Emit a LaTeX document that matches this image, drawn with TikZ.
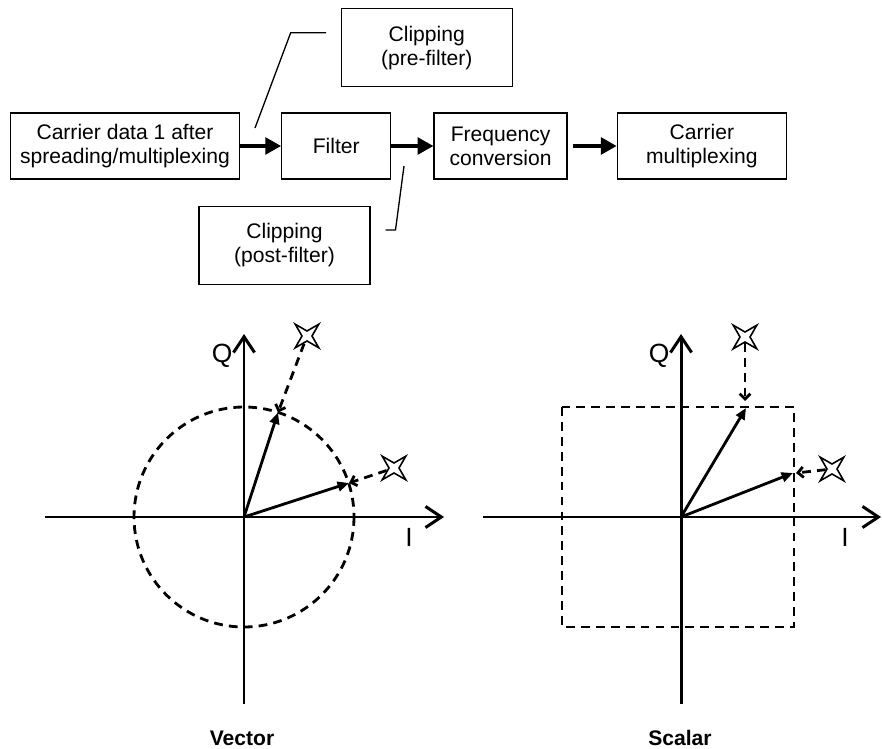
\documentclass[tikz,border=0pt]{standalone}
\usepackage{fontspec}
\setmainfont{Liberation Sans}
\usetikzlibrary{shapes.geometric, arrows.meta, positioning, calc}
\tikzstyle{block} = [draw, rectangle, line width=0.75pt, minimum height=1.32cm, inner sep=0pt, align=center, font=\fontsize{12}{13.7}\selectfont]
\tikzstyle{clipbox} = [block, minimum width=3.42cm, minimum height=1.56cm]
\tikzstyle{arrow} = [draw, -{Triangle[length=9pt,width=9.5pt]}, line width=2pt]
\tikzstyle{callout} = [draw, line width=0.75pt]
\tikzstyle{axis} = [draw, -{Straight Barb[length=9pt,width=12pt]}, line width=1.7pt]
\tikzstyle{phasor} = [draw, -{Triangle[length=6.5pt,width=5.5pt]}, line width=1.6pt]
\tikzstyle{limit} = [draw, dash pattern=on 5pt off 3.5pt, line width=1.6pt]
\tikzstyle{clipped} = [draw, dash pattern=on 5pt off 3.5pt, line width=1.6pt, -{Straight Barb[length=3pt,width=6pt]}]
\tikzstyle{spark} = [draw, star, star points=4, star point ratio=0.3, minimum size=0.2cm, inner sep=0pt, fill=white, line width=0.9pt]
\tikzstyle{axlabel} = [inner sep=0pt, font=\fontsize{15}{17}\selectfont]
\tikzstyle{caption} = [inner sep=0pt, font=\fontsize{12}{14}\selectfont\bfseries]

\begin{document}
\begin{tikzpicture}[x=0.02cm, y=-0.02cm, node distance=0.82cm]
    \useasboundingbox (0,0) rectangle (882,749);
    % transmit chain
    \node (data) at (125,146) [block, minimum width=4.58cm] {Carrier data 1 after\\spreading/multiplexing};
    \node (filter) [block, minimum width=2.18cm, right=0.82cm of data] {Filter};
    \node (freq) [block, minimum width=2.66cm, right=0.84cm of filter] {Frequency\\conversion};
    \node (cmux) [block, minimum width=3.38cm, right=0.98cm of freq] {Carrier\\multiplexing};
    \node (clippre) at (426.7,47.7) [clipbox] {Clipping\\(pre-filter)};
    \node (clippost) at (284.5,245.5) [clipbox] {Clipping\\(post-filter)};

    \draw [arrow] (data) -- (filter);
    \draw [arrow] (filter) -- (freq);
    \draw [arrow, shorten <=3pt] (freq) -- (cmux);

    % callouts
    \coordinate (pretail) at (326,32.7);
    \coordinate (prebend) at (290.7,32.7);
    \coordinate (prefoot) at (255,128);
    \coordinate (posttail) at (385.7,230);
    \coordinate (postbend) at (395.5,230);
    \coordinate (postfoot) at (404,166);
    \draw [callout] (pretail) -- (prebend) -- (prefoot);
    \draw [callout] (posttail) -- (postbend) -- (postfoot);

    % vector clipping
    \coordinate (vo) at (244,517);
    \coordinate (vwest) at (45,517);
    \coordinate (veast) at (444,517);
    \coordinate (vsouth) at (244,704);
    \coordinate (vnorth) at (244,334);
    \draw [limit] (vo) circle [radius=110];
    \draw [axis] (vwest) -- (veast);
    \draw [axis] (vsouth) -- (vnorth);
    \coordinate (vtip1) at (278,412.5);
    \coordinate (vtip2) at (349,483);
    \draw [phasor] (vo) -- (vtip1);
    \draw [phasor] (vo) -- (vtip2);
    \node (vstar1) at (307,336) [spark] {};
    \node (vstar2) at (394,468) [spark] {};
    \draw [clipped] (vstar1) -- (vtip1);
    \draw [clipped] (vstar2) -- (vtip2);
    \node (vq) at (222,356) [axlabel] {Q};
    \node (vi) at (409,537) [axlabel] {I};
    \node (vcap) at (242,738) [caption] {Vector};

    % scalar clipping
    \coordinate (so) at (681,517);
    \coordinate (swest) at (483,517);
    \coordinate (seast) at (881,517);
    \coordinate (ssouth) at (681,704);
    \coordinate (snorth) at (681,334);
    \draw [limit] (562,407) rectangle (794,627);
    \draw [axis] (swest) -- (seast);
    \draw [axis] (ssouth) -- (snorth);
    \coordinate (stip1) at (746,408);
    \coordinate (stip2) at (793,473);
    \draw [phasor] (so) -- (stip1);
    \draw [phasor] (so) -- (stip2);
    \node (sstar1) at (745,337) [spark] {};
    \node (sstar2) at (832,469) [spark] {};
    \coordinate (sdrop1) at (745,401);
    \coordinate (sdrop2) at (796,473);
    \draw [clipped] (sstar1) -- (sdrop1);
    \draw [clipped] (sstar2) -- (sdrop2);
    \node (sq) at (659,356) [axlabel] {Q};
    \node (si) at (845,537) [axlabel] {I};
    \node (scap) at (680,738) [caption] {Scalar};
\end{tikzpicture}
\end{document}
